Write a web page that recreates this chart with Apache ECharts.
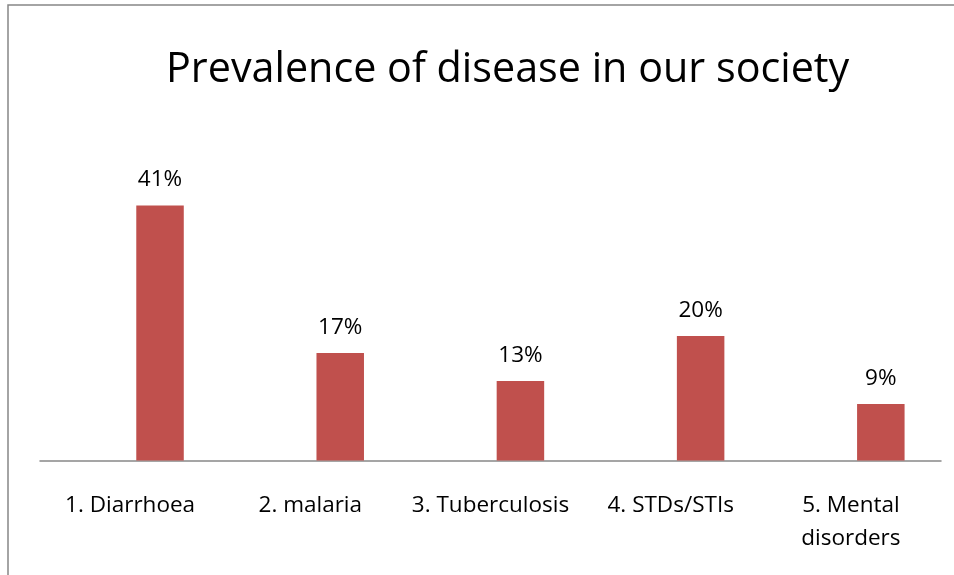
<!DOCTYPE html>
<html>
<head>
<meta charset="utf-8">
<script src="https://cdn.jsdelivr.net/npm/echarts@6/dist/echarts.min.js"></script>
<style>html,body{margin:0;padding:0;background:#fff}#c{width:954px;height:575px}</style>
</head>
<body>
<div id="c"></div>
<script>
const titleText = 'Prevalence of disease in our society';
const categories = ['1. Diarrhoea', '2. malaria', '3. Tuberculosis', '4. STDs/STIs', '5. Mental\ndisorders'];
const emptySeries = [null, null, null, null, null];
const prevalence = [41, 17.3, 12.8, 20, 9.1];

const chart = echarts.init(document.getElementById('c'));
const font = '"Open Sans", sans-serif';
chart.setOption({
  animation: false,
  title: {
    text: titleText, left: 161, top: 45,
    textStyle: { fontFamily: font, fontSize: 41.3, fontWeight: 'normal', color: '#000' }
  },
  graphic: [{
    type: 'rect', shape: { x: 8, y: 5, width: 1200, height: 1200 },
    style: { fill: 'none', stroke: '#868686', lineWidth: 1.5 }, silent: true
  }],
  grid: { left: 40, right: 13, top: 149.5, bottom: 114.5 },
  xAxis: {
    type: 'category', data: categories,
    axisLine: { lineStyle: { color: '#888', width: 1.5 } },
    axisTick: { show: false },
    axisLabel: { fontFamily: font, fontSize: 22.5, color: '#000', margin: 29, lineHeight: 33, interval: 0 }
  },
  yAxis: { type: 'value', min: 0, max: 50, show: false, splitLine: { show: false } },
  series: [
    { type: 'bar', data: emptySeries, barWidth: 47.5, barGap: '26%' },
    {
      type: 'bar', data: prevalence, barWidth: 47.5, barGap: '26%',
      itemStyle: { color: '#C0504D' },
      label: {
        show: true, position: 'top', distance: 14,
        fontFamily: font, fontSize: 22.5, color: '#000',
        formatter: p => Math.round(p.value) + '%'
      }
    }
  ]
});
</script>
</body>
</html>
